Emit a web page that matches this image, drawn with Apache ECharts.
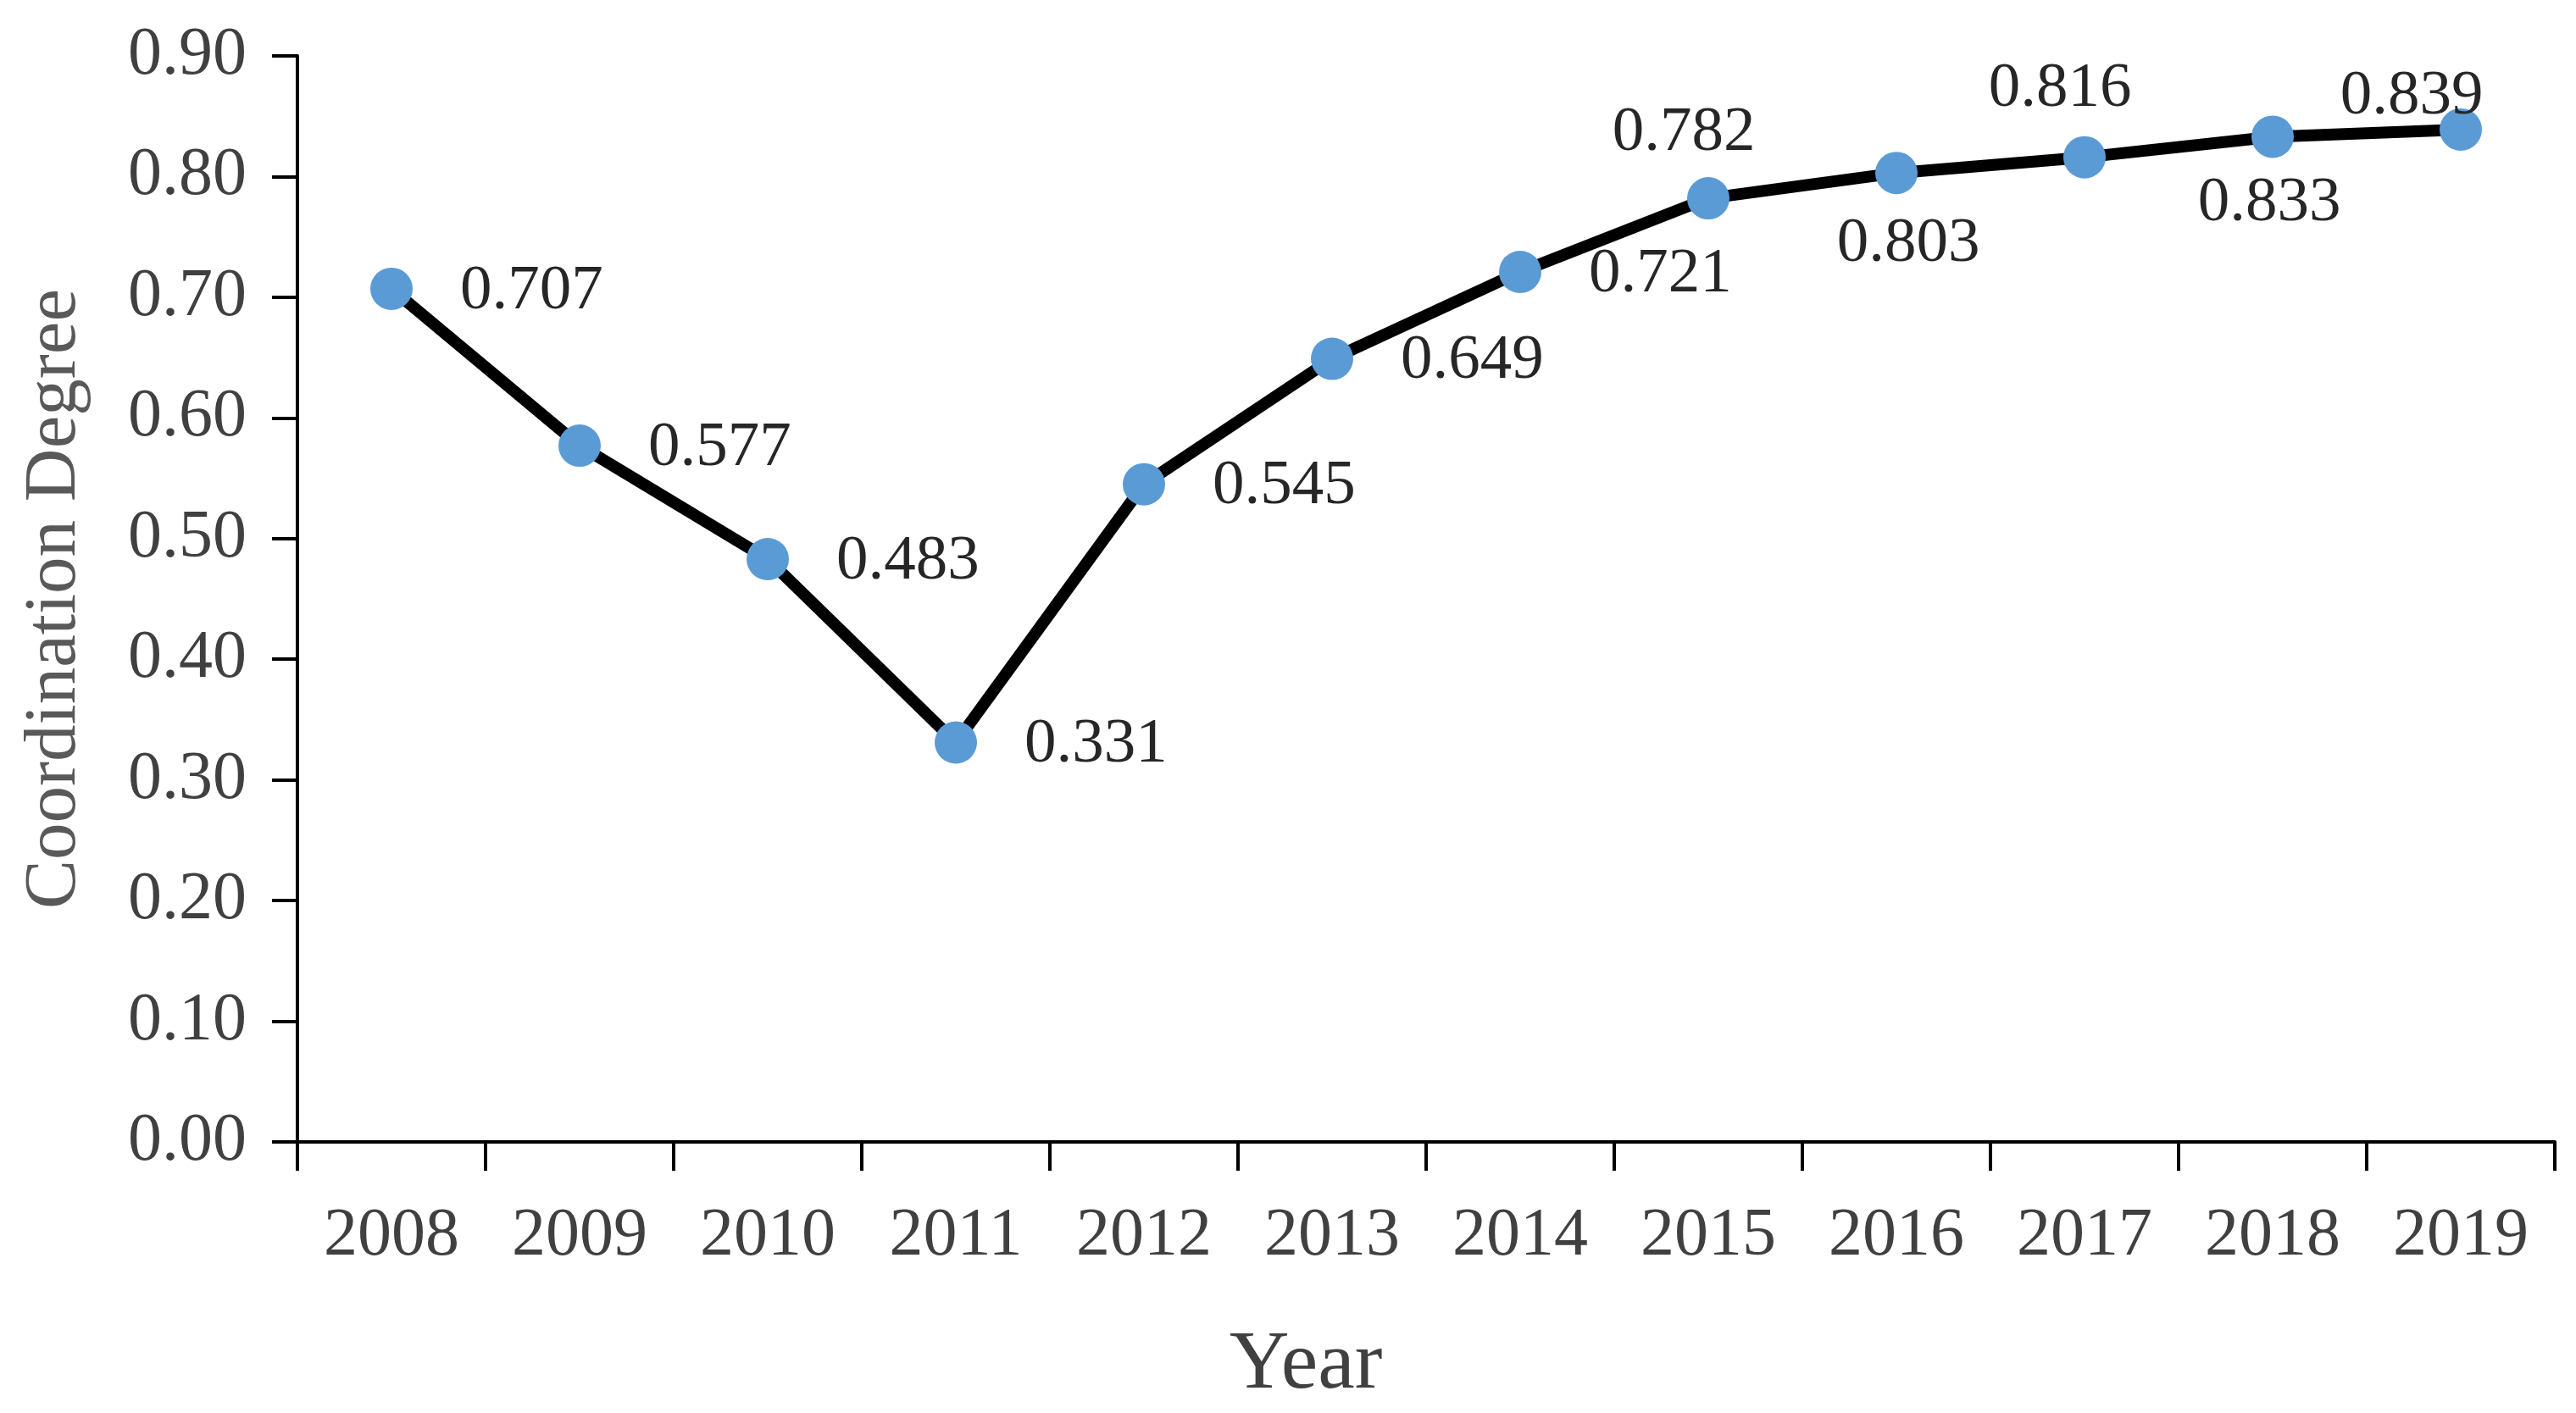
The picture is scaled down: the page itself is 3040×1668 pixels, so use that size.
<!DOCTYPE html>
<html>
<head>
<meta charset="utf-8">
<script src="https://cdn.jsdelivr.net/npm/echarts@6/dist/echarts.min.js"></script>
<style>html,body{margin:0;padding:0;background:#fff}#c{width:3040px;height:1668px}</style>
</head>
<body>
<div id="c"></div>
<script>
const years = ['2008','2009','2010','2011','2012','2013','2014','2015','2016','2017','2018','2019'];
const degree = [0.707,0.577,0.483,0.331,0.545,0.649,0.721,0.782,0.803,0.816,0.833,0.839];

const font = 'Liberation Serif';
// label placement per point (style, not data)
function labelFor(i){
  if (i===7)  return {position:'top', distance:14, offset:[-29,0]};
  if (i===9)  return {position:'top', distance:18, offset:[-29,0]};
  if (i===11) return {position:'top', distance:-2, offset:[-58,22]};
  if (i===8)  return {position:'bottom', distance:22, offset:[14,0]};
  if (i===10) return {position:'bottom', distance:16, offset:[-4,0]};
  return {position:'right', distance:56, offset:[0,3]};
}
const chart = echarts.init(document.getElementById('c'), null, {renderer:'canvas'});
chart.setOption({
  animation:false,
  backgroundColor:'#fff',
  grid:{left:351, top:66, right:25, bottom:320, containLabel:false, outerBoundsMode:'none'},
  xAxis:{
    type:'category', data:years, boundaryGap:true,
    name:'Year', nameLocation:'middle', nameGap:215,
    nameTextStyle:{fontFamily:font, fontSize:98, color:'#404040', padding:[0,284,0,0]},
    axisLine:{lineStyle:{color:'#000', width:4}},
    axisTick:{show:true, length:34, alignWithLabel:false, lineStyle:{color:'#000', width:4}},
    axisLabel:{fontFamily:font, fontSize:80, color:'#404040', margin:72}
  },
  yAxis:{
    type:'value', min:0, max:0.9, interval:0.1,
    name:'Coordination Degree', nameLocation:'middle', nameGap:242,
    nameTextStyle:{fontFamily:font, fontSize:87, color:'#595959'},
    axisLine:{show:true, lineStyle:{color:'#000', width:4}},
    axisTick:{show:true, length:30, lineStyle:{color:'#000', width:4}},
    splitLine:{show:false},
    axisLabel:{fontFamily:font, fontSize:80, color:'#404040', margin:60,
      formatter:v=>v.toFixed(2)}
  },
  series:[{
    type:'line',
    data: degree.map((v,i)=>({value:v, label:labelFor(i)})),
    symbol:'circle', symbolSize:50,
    itemStyle:{color:'#5B9BD5'},
    lineStyle:{color:'#000', width:14},
    label:{show:true, fontFamily:font, fontSize:75, color:'#262626',
      formatter:p=>p.value.toFixed(3)},
    z:3
  }]
});
</script>
</body>
</html>
